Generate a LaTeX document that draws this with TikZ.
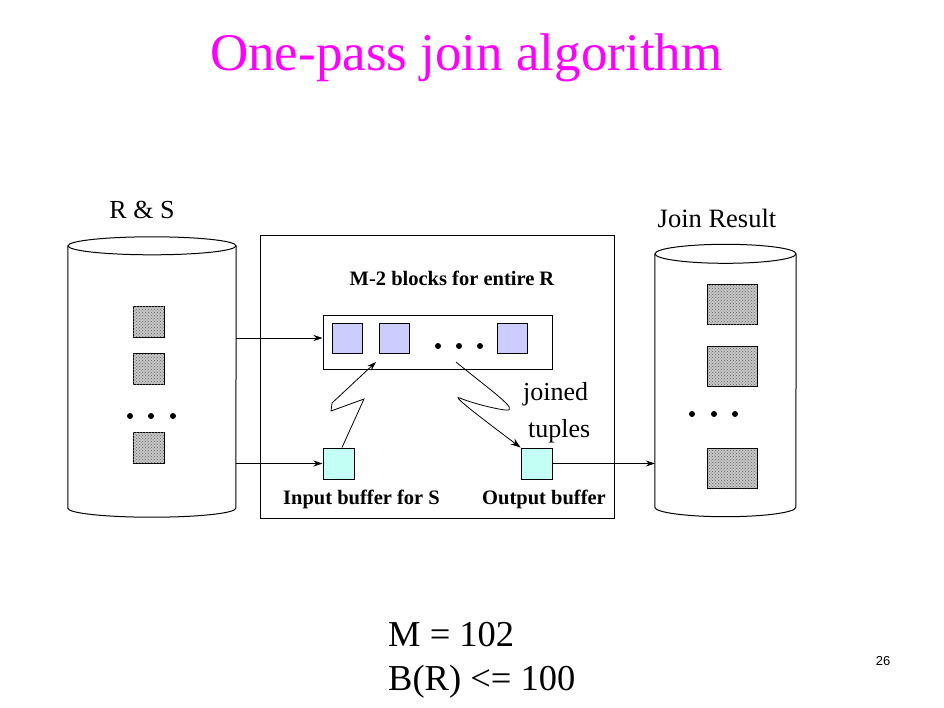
\documentclass[tikz,border=0pt]{standalone}
\usepackage{fontspec}
\newfontfamily\timesfont{Liberation Serif}
\newfontfamily\arialfont{Liberation Sans}
\usepackage{tikz}
\usetikzlibrary{positioning}
\usetikzlibrary{arrows.meta}
\usetikzlibrary{patterns}
\definecolor{titlemag}{RGB}{255,0,255}
\definecolor{rblock}{RGB}{204,204,255}
\definecolor{bufcyan}{RGB}{196,255,245}
\tikzset{
  block/.style={draw,line width=1pt,inner sep=0pt},
  diskblock/.style={block,fill=gray!45,postaction={pattern=crosshatch dots,pattern color=gray!80!black}},
  rblk/.style={block,fill=rblock,minimum width=30pt,minimum height=30pt},
  buf/.style={block,fill=bufcyan,minimum width=31pt,minimum height=31pt},
  dot/.style={circle,fill=black,inner sep=0pt,minimum size=6pt},
  lbl/.style={inner sep=0pt,anchor=base west},
  arr/.style={-{Stealth[length=9pt,width=6pt]},line width=0.8pt}
}

\begin{document}
\begin{tikzpicture}[x=1pt,y=-1pt]
\useasboundingbox (0,0) rectangle (944,707);
\node[lbl,text=titlemag] (title) at (210,70) {\timesfont\fontsize{53}{60}\selectfont One-pass join algorithm};

% disk holding R and S
\node (rsdisk) [inner sep=0pt,minimum width=168pt,minimum height=262pt] at (152,377) {};
\draw[line width=1pt] (rsdisk.north west) -- (rsdisk.south west) arc[start angle=180,end angle=0,x radius=84,y radius=9] -- (rsdisk.north east);
\draw[line width=1pt] (rsdisk.north) ellipse[x radius=84,y radius=9];
\node[lbl,anchor=base] (rslabel) at (142,218) {\timesfont\fontsize{26}{30}\selectfont R \& S};
\node[diskblock,minimum width=31pt,minimum height=31pt] (rs1) at (148.5,321.5) {};
\node[diskblock,minimum width=31pt,minimum height=31pt] (rs2) at (148.5,368.5) {};
\node[diskblock,minimum width=31pt,minimum height=31pt] (rs3) at (148.5,447.5) {};
\foreach \x in {130,151,173}
  \node[dot] at (\x,416) {};

% main memory
\node[block,minimum width=354pt,minimum height=283pt] (mem) at (437,376.5) {};
\node[lbl,anchor=base] (rtitle) at (452,285) {\timesfont\bfseries\fontsize{20.5}{24}\selectfont M-2 blocks for entire R};
\node[block,minimum width=229pt,minimum height=54pt] (rbuf) at (437.5,342) {};
\node[rblk] (r1) at (347,338) {};
\node[rblk] (r2) at (394,338) {};
\node[rblk] (r3) at (512.5,338) {};
\foreach \x in {438,459,480}
  \node[dot] at (\x,346) {};
\node[buf] (inbuf) at (338.5,463.5) {};
\node[buf] (outbuf) at (536.5,463.5) {};
\node[lbl] (inlabel) at (283,504) {\timesfont\bfseries\fontsize{20.5}{24}\selectfont Input buffer for S};
\node[lbl] (outlabel) at (482,504) {\timesfont\bfseries\fontsize{20.5}{24}\selectfont Output buffer};
\node[lbl] (joined) at (523,400) {\timesfont\fontsize{26}{30}\selectfont joined};
\node[lbl] (tuples) at (528,437) {\timesfont\fontsize{26}{30}\selectfont tuples};

% disk for the result
\node (resdisk) [inner sep=0pt,minimum width=141pt,minimum height=253pt] at (725.5,380.5) {};
\draw[line width=1pt] (resdisk.north west) -- (resdisk.south west) arc[start angle=180,end angle=0,x radius=70.5,y radius=9.5] -- (resdisk.north east);
\draw[line width=1pt] (resdisk.north) ellipse[x radius=70.5,y radius=9.5];
\node[lbl,anchor=base] (reslabel) at (717,227) {\timesfont\fontsize{26.5}{30}\selectfont Join Result};
\node[diskblock,minimum width=50pt,minimum height=40pt] (res1) at (732,304) {};
\node[diskblock,minimum width=50pt,minimum height=40pt] (res2) at (732,366) {};
\node[diskblock,minimum width=50pt,minimum height=40pt] (res3) at (732,468) {};
\foreach \x in {692,714,735}
  \node[dot] at (\x,414) {};

% connectors
\draw[arr] ([yshift=4pt]rbuf.west -| rsdisk.east) -- ([yshift=4pt]rbuf.west);
\draw[arr] (inbuf.west -| rsdisk.east) -- (inbuf.west);
\draw[arr] (outbuf.east) -- (outbuf.east -| resdisk.west);
\coordinate (zz1) at (364,399);
\coordinate (zz2) at (331,411);
\coordinate (zz3) at (332,403);
\coordinate (rin) at (376,362);
\draw[arr] ([xshift=3.5pt]inbuf.north) -- (zz1) -- (zz2) -- (zz3) -- (rin);
\coordinate (rout) at (456,362);
\coordinate (loop1) at (505,410);
\coordinate (loop2) at (460,398);
\draw[-{Stealth[length=10pt,width=7pt]},line width=0.8pt] (rout) .. controls (490,390) and (522,412) .. (loop1)
  .. controls (490,408) and (466,401) .. (loop2)
  .. controls (452,395) and (468,408) .. (outbuf.north west);

\node[lbl] (mval) at (388,646) {\timesfont\fontsize{36.5}{40}\selectfont M = 102};
\node[lbl] (bval) at (388,690) {\timesfont\fontsize{36.5}{40}\selectfont B(R) <= 100};
\node[lbl,anchor=base] (page) at (883,665) {\arialfont\fontsize{13}{15}\selectfont 26};
\end{tikzpicture}
\end{document}
